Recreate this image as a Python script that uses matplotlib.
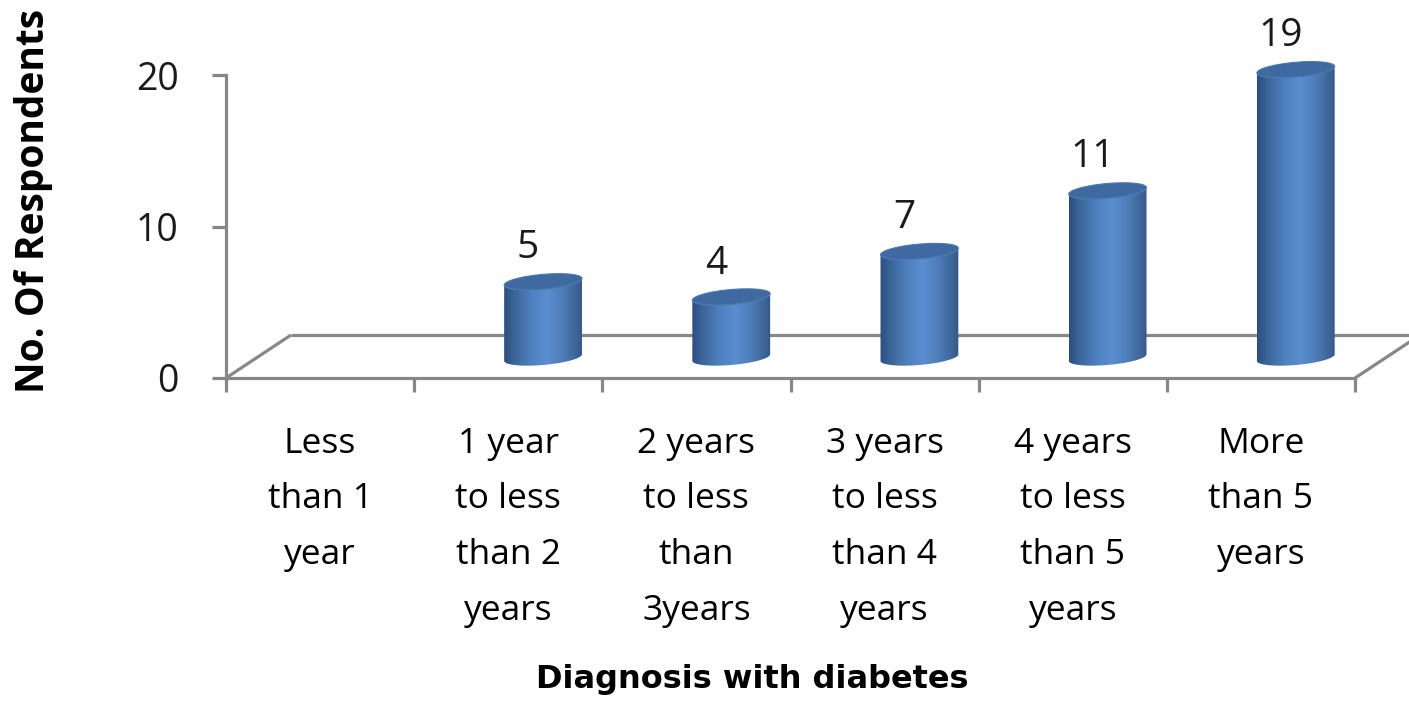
import numpy as np
import matplotlib
matplotlib.use("Agg")
import matplotlib.pyplot as plt
from matplotlib.path import Path
from matplotlib.patches import PathPatch, Polygon
from matplotlib.colors import LinearSegmentedColormap

# ---- data -------------------------------------------------------------
categories = [
    "Less\nthan 1\nyear",
    "1 year\nto less\nthan 2\nyears",
    "2 years\nto less\nthan\n3years",
    "3 years\nto less\nthan 4\nyears",
    "4 years\nto less\nthan 5\nyears",
    "More\nthan 5\nyears",
]
respondents = [0, 5, 4, 7, 11, 19]
y_ticks = [0, 10, 20]
x_title = "Diagnosis with diabetes"
y_title = "No. Of Respondents"

# ---- styling ----------------------------------------------------------
FONT = "Open Sans"
AXIS_GREY = "#878787"
W, H, DPI = 1409, 705, 100

fig = plt.figure(figsize=(W / DPI, H / DPI), dpi=DPI)
fig.patch.set_facecolor("white")

n = len(categories)
x_max, y_max = n + 0.3, 24
# plot frame: x = 0..6 (category slots), y = 0..24
ax = fig.add_axes([226 / W, (H - 378) / H, 1185.5 / W, 363.6 / H])
ax.set_xlim(0, x_max)
ax.set_ylim(0, y_max)
ax.set_facecolor("none")

# pixel scales of the data axes (for the oblique floor / cylinder caps)
sx = 1185.5 / x_max
sy = 363.6 / y_max

# floor depth (oblique projection)
depth_dx, depth_dy = 65 / sx, 43 / sy
bar_dx, bar_dy = 0.185, 1.35
bar_w = 0.415
ell_a, ell_b, ell_tilt = bar_w * sx / 2, 7.4, np.deg2rad(5)

# spines / ticks
for side in ("top", "right"):
    ax.spines[side].set_visible(False)
ax.spines["left"].set_bounds(0, 20)
ax.spines["bottom"].set_bounds(0, n)
for side in ("left", "bottom"):
    ax.spines[side].set_color(AXIS_GREY)
    ax.spines[side].set_linewidth(2.3)
    ax.spines[side].set_zorder(5)

ax.set_yticks(y_ticks)
ax.set_yticklabels([str(t) for t in y_ticks], fontfamily=FONT, fontsize=27)
ax.tick_params(axis="y", length=10, width=2.3, color=AXIS_GREY, pad=24,
               labelcolor="#1a1a1a")

ax.set_xticks(np.arange(n + 1))
ax.set_xticklabels([])
ax.set_xticks(np.arange(n) + 0.5, minor=True)
ax.set_xticklabels(categories, minor=True, fontfamily=FONT, fontsize=25.5,
                   linespacing=1.84, va="top")
ax.tick_params(axis="x", which="major", length=10, width=2.3, color=AXIS_GREY)
ax.tick_params(axis="x", which="minor", length=0, pad=35, labelcolor="black")

# floor outline: back edge and the two receding sides
floor_kw = dict(color=AXIS_GREY, lw=2.3, clip_on=False, zorder=1,
                solid_capstyle="butt")
ax.plot([depth_dx, n + depth_dx], [depth_dy, depth_dy], **floor_kw)
ax.plot([0, depth_dx], [0, depth_dy], **floor_kw)
ax.plot([n, n + depth_dx], [0, depth_dy], **floor_kw)

# ---- cylinders ----------------------------------------------------------
body_cmap = LinearSegmentedColormap.from_list(
    "cyl",
    [(0.0, "#2b4e7f"), (0.12, "#3a6396"), (0.35, "#4f80c0"),
     (0.55, "#5a8ed0"), (0.75, "#4d7cb8"), (0.92, "#3d6495"),
     (1.0, "#345886")],
)
grad = np.linspace(0, 1, 256).reshape(1, -1)


def ellipse_pts(cx, cy, t):
    """Tilted cap ellipse in data coordinates."""
    px = ell_a * np.cos(t) * np.cos(ell_tilt) - ell_b * np.sin(t) * np.sin(ell_tilt)
    py = ell_a * np.cos(t) * np.sin(ell_tilt) + ell_b * np.sin(t) * np.cos(ell_tilt)
    return np.column_stack([cx + px / sx, cy + py / sy])


t0 = np.arctan2(-ell_b * np.sin(ell_tilt), ell_a * np.cos(ell_tilt))
front = np.linspace(t0 + np.pi, t0 + 2 * np.pi, 80)
full = np.linspace(0, 2 * np.pi, 160)

for i, v in enumerate(respondents):
    if v <= 0:
        continue
    cx = i + 0.5 + bar_dx
    y0 = bar_dy
    y1 = bar_dy + v
    lower = ellipse_pts(cx, y0, front)
    upper = ellipse_pts(cx, y1, front[::-1])
    body = np.vstack([lower, upper, lower[:1]])
    clip = PathPatch(Path(body, closed=True), transform=ax.transData,
                     facecolor="none", edgecolor="none")
    ax.add_patch(clip)
    im = ax.imshow(grad, cmap=body_cmap, aspect="auto", interpolation="bilinear",
                   extent=[cx - bar_w / 2, cx + bar_w / 2, y0 - 1.5, y1 + 1.5],
                   zorder=3)
    im.set_clip_path(clip)
    cap = Polygon(ellipse_pts(cx, y1, full), closed=True, facecolor="#3e6aa1",
                  edgecolor="#4a78b2", lw=0.8, zorder=4)
    ax.add_patch(cap)
    ax.annotate(str(v), xy=(cx, y1 + ell_b / sy), xytext=(-15, 16),
                textcoords="offset pixels", ha="center", va="baseline",
                fontfamily=FONT, fontsize=28, color="#1a1a1a", zorder=6)

ax.set_xlim(0, x_max)
ax.set_ylim(0, y_max)

# ---- axis titles --------------------------------------------------------
ax.set_ylabel(y_title, fontfamily=FONT, fontweight="bold", fontsize=28,
              va="center")
ax.yaxis.set_label_coords(-192 / 1185.5, (378 - 201) / 363.6)
ax.set_xlabel(x_title, fontfamily="DejaVu Sans", fontweight="bold",
              fontsize=23, va="baseline")
ax.xaxis.set_label_coords((752 - 226) / 1185.5, (378 - 688) / 363.6)

fig.savefig("out.png", dpi=DPI, facecolor="white")
